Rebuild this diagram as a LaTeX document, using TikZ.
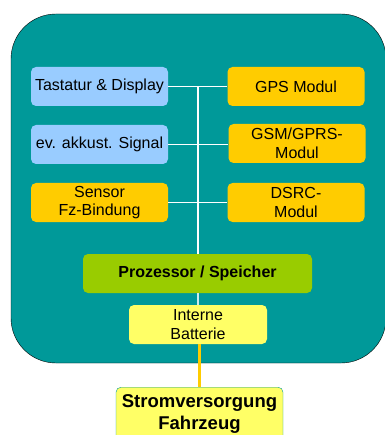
\documentclass[tikz,border=0pt]{standalone}
\usepackage{fontspec}
\setmainfont{Liberation Sans}
\definecolor{gehaeuse}{HTML}{009999}
\definecolor{hellblau}{HTML}{99CCFF}
\definecolor{orange}{HTML}{FFCC00}
\definecolor{gruen}{HTML}{99CC00}
\definecolor{hellgelb}{HTML}{FFFF66}
\begin{document}
\begin{tikzpicture}[x=1pt,y=-1pt,
  modul/.style={rounded corners=5pt,minimum width=137pt,minimum height=39pt,inner sep=0pt,
    align=center,font=\fontsize{16}{18.5}\selectfont},
  blau/.style={modul,fill=hellblau},
  gelb/.style={modul,fill=orange},
  bus/.style={white,line width=1.5pt}]
\useasboundingbox (0,0) rectangle (384,435);
\draw[fill=gehaeuse,rounded corners=45pt] (11,14) rectangle (386,363);

\node[blau] (tast) at (99.5,86.5) {Tastatur \& Display};
\node[blau] (akk) at (99.5,144.5) {ev. akkust. Signal};
\node[gelb] (sens) at (99.5,202.5) {Sensor\\Fz-Bindung};
\node[gelb] (gps) at (296,86.5) {GPS Modul};
\node[gelb] (gsm) at (297,143.5) {GSM/GPRS-\\Modul};
\node[gelb] (dsrc) at (296,202.5) {DSRC-\\Modul};
\node[modul,fill=gruen,minimum width=229pt,font=\fontsize{16}{18.5}\selectfont\bfseries] (proz) at (197.5,273.5) {Prozessor / Speicher};
\node[modul,fill=hellgelb,minimum width=138pt] (batt) at (198,324.5) {Interne\\Batterie};
\node[modul,fill=hellgelb,draw=gehaeuse,minimum width=167pt,minimum height=54pt,anchor=north,
  font=\fontsize{18.5}{22}\selectfont\bfseries] (strom) at (199.5,387) {Stromversorgung\\Fahrzeug};

\coordinate (bustop) at (198,87);
\draw[bus] (tast.east) -- (gps.west |- tast.east);
\draw[bus] (akk.east) -- (gsm.west |- akk.east);
\draw[bus] (sens.east) -- (dsrc.west);
\draw[bus] (bustop) -- (proz.north -| bustop);
\draw[bus,white!80!gehaeuse] (proz.south -| bustop) -- (batt.north -| bustop);
\draw[orange,line width=3pt] (batt.south -| strom.north) -- (strom.north);
\end{tikzpicture}
\end{document}
